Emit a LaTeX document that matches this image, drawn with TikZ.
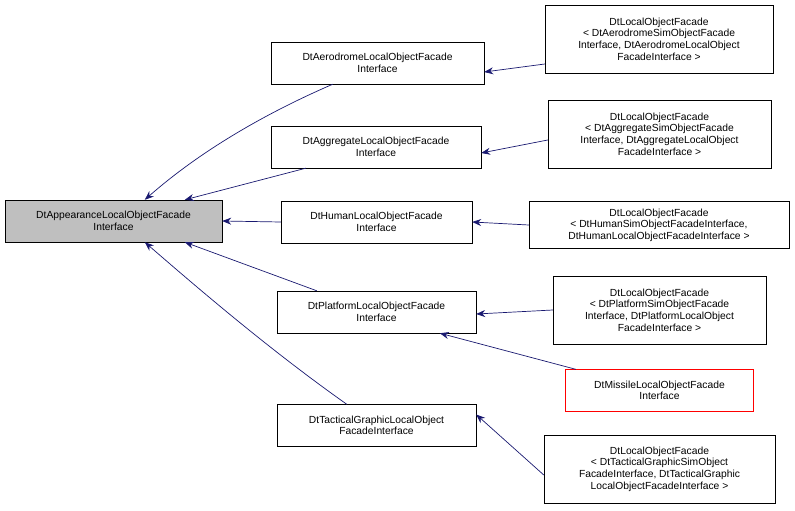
\documentclass[tikz,border=0pt]{standalone}
\usepackage{fontspec}
\setmainfont{Liberation Sans}
\usetikzlibrary{arrows.meta}
\begin{document}
\begin{tikzpicture}[x=1pt,y=-1pt,
 box/.style={draw=black,fill=white,align=center,font=\fontsize{10.3}{11.6}\selectfont,inner sep=0pt,minimum height=#1},
 box/.default=42,
 redbox/.style={fill=white,align=center,font=\fontsize{10.3}{11.6}\selectfont,inner sep=0pt,minimum height=42},
 redline/.style={draw=red,line width=0.8pt},
 e/.style={draw={rgb,255:red,25;green,25;blue,112},-{Stealth[length=9pt,width=7pt]},line width=0.7pt}]
\useasboundingbox (0,0) rectangle (795,511);
\node[box,fill={rgb,255:red,191;green,191;blue,191},minimum width=217] (a) at (113.5,221) {DtAppearanceLocalObjectFacade\\Interface};
\node[box,minimum width=213] (b1) at (377.5,63) {DtAerodromeLocalObjectFacade\\Interface};
\node[box,minimum width=210] (b2) at (376,147) {DtAggregateLocalObjectFacade\\Interface};
\node[box,minimum width=191] (b3) at (376.5,222) {DtHumanLocalObjectFacade\\Interface};
\node[box,minimum width=199] (b4) at (376.5,312) {DtPlatformLocalObjectFacade\\Interface};
\node[box,minimum width=199] (b5) at (376.5,425.5) {DtTacticalGraphicLocalObject\\FacadeInterface};
\node[box=68,minimum width=228] (c1) at (659,39) {DtLocalObjectFacade\\< DtAerodromeSimObjectFacade\\Interface, DtAerodromeLocalObject\\FacadeInterface >};
\node[box=68,minimum width=223] (c2) at (659.5,134) {DtLocalObjectFacade\\< DtAggregateSimObjectFacade\\Interface, DtAggregateLocalObject\\FacadeInterface >};
\node[box=47,minimum width=260] (c3) at (659,225) {DtLocalObjectFacade\\< DtHumanSimObjectFacadeInterface,\\DtHumanLocalObjectFacadeInterface >};
\node[box=68,minimum width=213] (c4) at (659.5,310) {DtLocalObjectFacade\\< DtPlatformSimObjectFacade\\Interface, DtPlatformLocalObject\\FacadeInterface >};
\node[redbox,minimum width=187] (c5) at (659.5,390.5) {DtMissileLocalObjectFacade\\Interface};
\draw[redline] (c5.north west) rectangle (c5.south east);
\node[box=68,minimum width=231] (c6) at (659.5,469) {DtLocalObjectFacade\\< DtTacticalGraphicSimObject\\FacadeInterface, DtTacticalGraphic\\LocalObjectFacadeInterface >};
\draw[e] ([xshift=62]b1.south west) .. controls (250,120) and (190,160) .. ([xshift=140]a.north west);
\draw[e] ([xshift=35]b2.south west) -- ([xshift=180]a.north west);
\draw[e] (b3.west) -- (a.east);
\draw[e] ([xshift=40]b4.north west) -- ([xshift=180]a.south west);
\draw[e] ([xshift=70]b5.north west) .. controls (270,350) and (200,290) .. ([xshift=140]a.south west);
\draw[e] ([yshift=-25]c1.west) -- ([yshift=-9]b1.east);
\draw[e] ([yshift=-6]c2.west) -- ([yshift=-6]b2.east);
\draw[e] (c3.west) -- (b3.east);
\draw[e] (c4.west) -- ([yshift=-2]b4.east);
\draw[e] ([xshift=10]c5.north west) -- ([xshift=163]b4.south west);
\draw[e] ([yshift=-6]c6.west) -- ([yshift=11]b5.east);
\end{tikzpicture}
\end{document}
